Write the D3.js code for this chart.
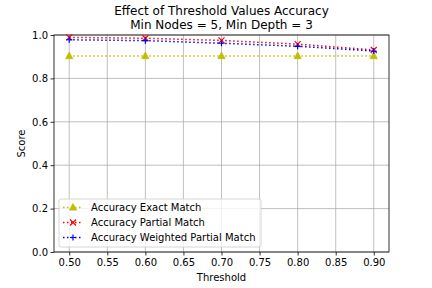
<!DOCTYPE html>
<html><head><meta charset="utf-8">
<script src="https://cdn.jsdelivr.net/npm/d3@7"></script>
<style>body{margin:0;background:#fff}svg{display:block}text{font-family:"DejaVu Sans",sans-serif;fill:#000}</style>
</head><body><svg id="c" width="432" height="288"></svg>
<script>
const thresholds = [0.5, 0.6, 0.7, 0.8, 0.9];
const exactMatch = [0.903, 0.903, 0.903, 0.903, 0.903];
const partialMatch = [0.989, 0.985, 0.975, 0.958, 0.931];
const weightedPartialMatch = [0.978, 0.974, 0.962, 0.948, 0.926];
const xTicks = [0.5, 0.55, 0.6, 0.65, 0.7, 0.75, 0.8, 0.85, 0.9];
const yTicks = [0, 0.2, 0.4, 0.6, 0.8, 1.0];
const seriesNames = ["Accuracy Exact Match", "Accuracy Partial Match", "Accuracy Weighted Partial Match"];

const svg = d3.select("#c");
const L = 54, R = 389, T = 35, B = 252;
const x = d3.scaleLinear().domain([0.48, 0.92]).range([L, R]);
const y = d3.scaleLinear().domain([0, 1]).range([B, T]);

// grid
const g = svg.append("g");
g.selectAll(".gx").data(xTicks).join("line").attr("x1", d => x(d)).attr("x2", d => x(d)).attr("y1", T).attr("y2", B).attr("stroke", "#b0b0b0").attr("stroke-width", 0.8);
g.selectAll(".gy").data(yTicks).join("line").attr("y1", d => y(d)).attr("y2", d => y(d)).attr("x1", L).attr("x2", R).attr("stroke", "#b0b0b0").attr("stroke-width", 0.8);

// axes
const xa = svg.append("g").attr("transform", `translate(0,${B})`).call(d3.axisBottom(x).tickValues(xTicks).tickFormat(d3.format(".2f")).tickSize(3.5).tickSizeOuter(0));
const ya = svg.append("g").attr("transform", `translate(${L},0)`).call(d3.axisLeft(y).tickValues(yTicks).tickFormat(d3.format(".1f")).tickSize(3.5).tickSizeOuter(0));
[xa, ya].forEach(a => { a.select(".domain").remove(); a.selectAll("text").style("font-size", "10px").style("font-family", "DejaVu Sans"); a.selectAll("line").attr("stroke-width", 0.8); });
xa.selectAll("text").attr("dy", "0.9em").attr("y", 5);
ya.selectAll("text").attr("x", -6);

// frame
svg.append("rect").attr("x", L).attr("y", T).attr("width", R - L).attr("height", B - T).attr("fill", "none").attr("stroke", "#000").attr("stroke-width", 0.8);

const series = [
  {vals: exactMatch, color: "#bfbf00", marker: "tri"},
  {vals: partialMatch, color: "#ff0000", marker: "x"},
  {vals: weightedPartialMatch, color: "#0000ff", marker: "plus"}
];
function marker(sel, type, color, cx, cy) {
  if (type === "tri") {
    sel.append("path").attr("d", `M${cx},${cy-4}L${cx+3.6},${cy+2.6}L${cx-3.6},${cy+2.6}Z`).attr("fill", color).attr("stroke", color).attr("stroke-width", 0.8);
  } else if (type === "x") {
    sel.append("path").attr("d", `M${cx-3},${cy-3}L${cx+3},${cy+3}M${cx-3},${cy+3}L${cx+3},${cy-3}`).attr("stroke", color).attr("stroke-width", 1.2);
  } else {
    sel.append("path").attr("d", `M${cx-3},${cy}L${cx+3},${cy}M${cx},${cy-3}L${cx},${cy+3}`).attr("stroke", color).attr("stroke-width", 1.2);
  }
}
const line = d3.line().x((d, i) => x(thresholds[i])).y(d => y(d));
series.forEach(s => {
  svg.append("path").datum(s.vals).attr("d", line).attr("fill", "none").attr("stroke", s.color).attr("stroke-width", 1.5).attr("stroke-dasharray", "1.5,2.5");
  const mg = svg.append("g");
  s.vals.forEach((v, i) => marker(mg, s.marker, s.color, x(thresholds[i]), y(v)));
});

// legend
const lg = svg.append("g");
lg.append("rect").attr("x", 59).attr("y", 199).attr("width", 202).attr("height", 48).attr("rx", 2).attr("fill", "#fff").attr("fill-opacity", 0.8).attr("stroke", "#cccccc").attr("stroke-width", 0.8);
series.forEach((s, i) => {
  const cy = 207.5 + i * 15;
  lg.append("line").attr("x1", 63).attr("x2", 83).attr("y1", cy).attr("y2", cy).attr("stroke", s.color).attr("stroke-width", 1.5).attr("stroke-dasharray", "1.5,2.5");
  marker(lg, s.marker, s.color, 73, cy);
  lg.append("text").attr("x", 91).attr("y", cy).attr("dy", "0.35em").style("font-size", "10px").text(seriesNames[i]);
});

// titles
svg.append("text").attr("x", (L + R) / 2).attr("y", 15).attr("text-anchor", "middle").style("font-size", "12px").text("Effect of Threshold Values Accuracy");
svg.append("text").attr("x", (L + R) / 2).attr("y", 29).attr("text-anchor", "middle").style("font-size", "12px").text("Min Nodes = 5, Min Depth = 3");
svg.append("text").attr("x", (L + R) / 2).attr("y", 281).attr("text-anchor", "middle").style("font-size", "10px").text("Threshold");
svg.append("text").attr("transform", `translate(25,${(T + B) / 2}) rotate(-90)`).attr("text-anchor", "middle").style("font-size", "10px").text("Score");
</script></body></html>
